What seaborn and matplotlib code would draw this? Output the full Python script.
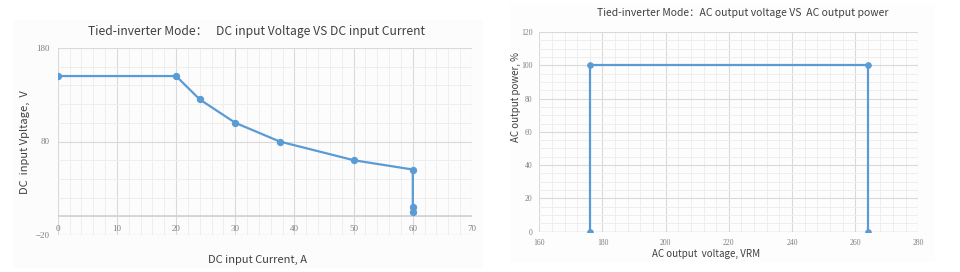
import matplotlib
matplotlib.use("Agg")
import matplotlib.pyplot as plt
import seaborn as sns
import pandas as pd
from matplotlib.ticker import MultipleLocator, FixedLocator
from matplotlib.patches import Rectangle

# ---- data ----
dc_current = [0, 20, 24, 30, 37.5, 50, 60, 60, 60]
dc_voltage = [150, 150, 125, 100, 80, 60, 50, 10, 5]

ac_voltage = [176, 176, 264, 264]
ac_power = [0, 100, 100, 0]

left_title = "Tied-inverter Mode：   DC input Voltage VS DC input Current"
left_xlabel = "DC input Current, A"
left_ylabel = "DC  input Vpltage,  V"
right_title = "Tied-inverter Mode：AC output voltage VS  AC output power"
right_xlabel = "AC output  voltage, VRM"
right_ylabel = "AC output power, %"

left_xticks = [0, 10, 20, 30, 40, 50, 60, 70]
left_yticks = [-20, 80, 180]
right_xticks = [160, 180, 200, 220, 240, 260, 280]
right_yticks = [0, 20, 40, 60, 80, 100, 120]

sns.set_theme(style="white")
plt.rcParams['font.family'] = ['Noto Sans CJK SC', 'DejaVu Sans']

LINE = "#5b9bd5"
MAJ = "#d9d9d9"
MIN = "#eeeeee"
TICKC = "#7f7f7f"
TXT = "#404040"

fig = plt.figure(figsize=(9.6, 2.72), dpi=100)
fig.patch.set_facecolor("white")
# faint panel backgrounds
fig.add_artist(Rectangle((14/960, 1-268/272), (483-14)/960, (268-20)/272,
                         transform=fig.transFigure, facecolor="#fcfcfc",
                         edgecolor="none", zorder=-10))
fig.add_artist(Rectangle((510/960, 1-262/272), (935-510)/960, (262-4)/272,
                         transform=fig.transFigure, facecolor="#fdfdfd",
                         edgecolor="none", zorder=-10))

serif = ['Liberation Serif', 'DejaVu Serif']

# ---------- left ----------
ax1 = fig.add_axes([57.7/960, 1-235/272, (472-57.7)/960, (235-48)/272])
ax1.set_facecolor("none")
df1 = pd.DataFrame({"I": dc_current, "V": dc_voltage})
sns.lineplot(data=df1, x="I", y="V", ax=ax1, sort=False, estimator=None,
             color=LINE, lw=1.6, marker="o", markersize=4.5,
             markeredgecolor=LINE, zorder=5)
ax1.set_xlim(0, 70)
ax1.set_ylim(-20, 180)
ax1.xaxis.set_major_locator(FixedLocator(left_xticks))
ax1.xaxis.set_minor_locator(MultipleLocator(2))
ax1.yaxis.set_major_locator(FixedLocator(left_yticks))
ax1.yaxis.set_minor_locator(MultipleLocator(20))
ax1.grid(True, which="major", color=MAJ, lw=0.8)
ax1.grid(True, which="minor", color=MIN, lw=0.7)
ax1.axhline(0, color="#d0d0d0", lw=1.2, zorder=2)
ax1.axhline(-20, color=MAJ, lw=0.8, zorder=1)
for s in ax1.spines.values():
    s.set_visible(False)
ax1.spines['bottom'].set_position(('data', 0))
ax1.tick_params(which="both", length=0)
ax1.tick_params(axis="x", pad=6)
ax1.tick_params(axis="y", pad=6)
for lab in ax1.get_xticklabels() + ax1.get_yticklabels():
    lab.set_family(serif)
    lab.set_fontsize(6.5)
    lab.set_color(TICKC)
ax1.set_xlabel("")
ax1.set_ylabel("")
fig.text(258/960, 1-260/272, left_xlabel, ha="center", va="center",
         fontsize=8, color=TXT)
fig.text(25/960, 1-142/272, left_ylabel, ha="center", va="center",
         rotation=90, fontsize=8, color=TXT)
fig.text(257/960, 1-32/272, left_title, ha="center", va="center",
         fontsize=8.7, color=TXT)

# ---------- right ----------
ax2 = fig.add_axes([539.3/960, 1-231.7/272, (918.3-539.3)/960, (231.7-32)/272])
ax2.set_facecolor("none")
df2 = pd.DataFrame({"U": ac_voltage, "P": ac_power})
sns.lineplot(data=df2, x="U", y="P", ax=ax2, sort=False, estimator=None,
             color=LINE, lw=1.6, marker="o", markersize=4,
             markeredgecolor=LINE, zorder=5)
ax2.set_xlim(160, 280)
ax2.set_ylim(0, 120)
ax2.xaxis.set_major_locator(FixedLocator(right_xticks))
ax2.xaxis.set_minor_locator(MultipleLocator(4))
ax2.yaxis.set_major_locator(FixedLocator(right_yticks))
ax2.yaxis.set_minor_locator(MultipleLocator(5))
ax2.grid(True, which="major", color=MAJ, lw=0.8)
ax2.grid(True, which="minor", color=MIN, lw=0.7)
for s in ax2.spines.values():
    s.set_visible(False)
ax2.axhline(0, color="#d0d0d0", lw=1.0, zorder=2)
ax2.tick_params(which="both", length=0)
ax2.tick_params(axis="x", pad=5)
ax2.tick_params(axis="y", pad=5)
for lab in ax2.get_xticklabels() + ax2.get_yticklabels():
    lab.set_family(serif)
    lab.set_fontsize(5.5)
    lab.set_color(TICKC)
ax2.set_xlabel("")
ax2.set_ylabel("")
fig.text(706/960, 1-254/272, right_xlabel, ha="center", va="center",
         fontsize=7, color=TXT)
fig.text(516/960, 1-97/272, right_ylabel, ha="center", va="center",
         rotation=90, fontsize=7, color=TXT)
fig.text(743/960, 1-13/272, right_title, ha="center", va="center",
         fontsize=7.5, color=TXT)

fig.savefig("out.png", dpi=100)
